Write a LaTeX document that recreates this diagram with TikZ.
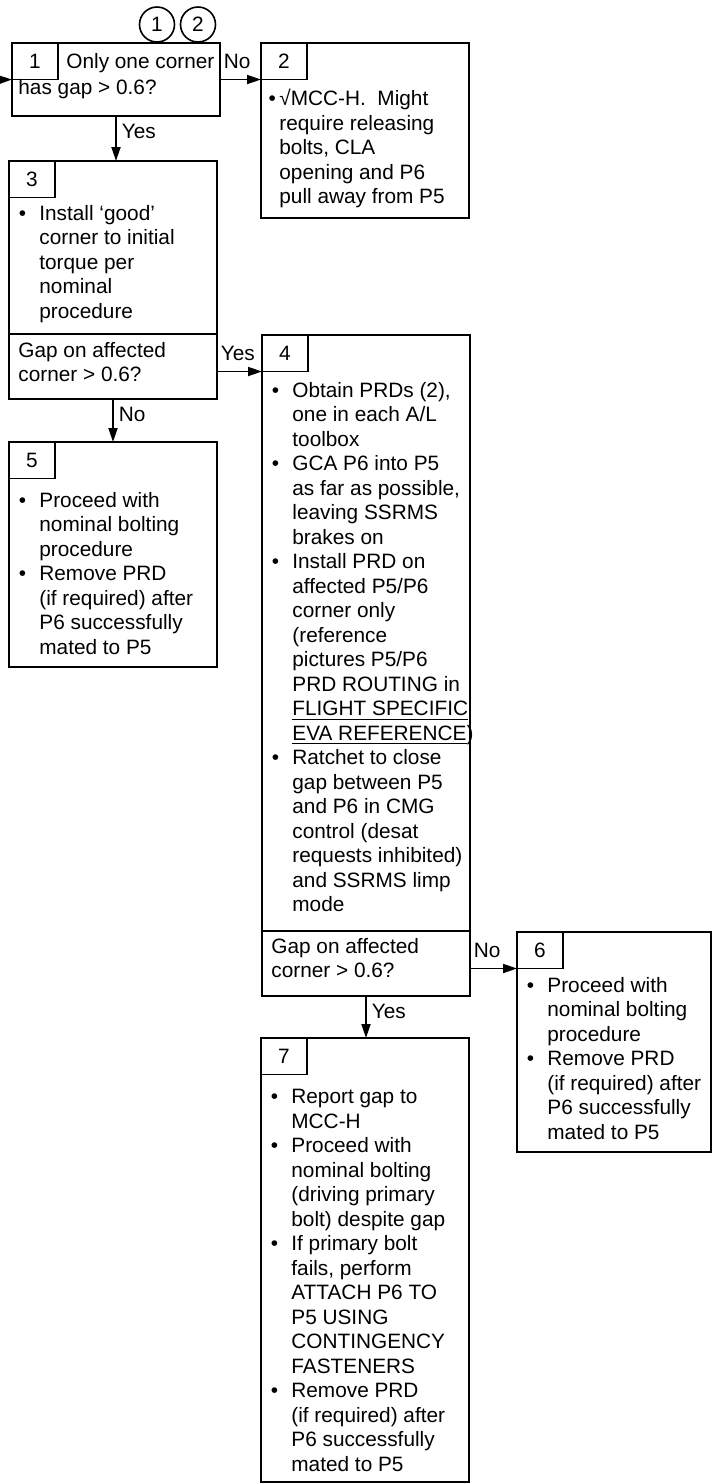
\documentclass[tikz,border=0pt]{standalone}
\usepackage{fontspec}
\setmainfont{Liberation Sans}
\usetikzlibrary{arrows.meta,positioning}
\newcommand{\bitem}{\llap{\textbullet\hspace{6.6pt}}}

\begin{document}
\begin{tikzpicture}[x=0.5pt, y=-0.5pt, ->, >={Triangle[length=7pt,width=4.5pt]},
                    font=\fontsize{10.4}{12.25}\selectfont,
                    box/.style={draw,line width=1.1pt,anchor=north west,inner sep=0pt,outer sep=0pt,minimum width=104pt},
                    tab/.style={draw,line width=0.75pt,anchor=north west,inner sep=0pt,outer sep=0pt,minimum width=23pt,minimum height=18.25pt},
                    txt/.style={anchor=north west,align=left,inner sep=0pt,yshift=9pt,
                                execute at begin node=\rule{0pt}{9pt}},
                    ref/.style={draw,circle,line width=0.8pt,minimum size=17.5pt,inner sep=0pt},
                    lblh/.style={pos=0,anchor=south west,xshift=1.5pt,yshift=5pt,inner sep=0pt},
                    lblv/.style={pos=0,anchor=north west,xshift=2.5pt,yshift=-3.5pt,inner sep=0pt}]
  \useasboundingbox (0,0) rectangle (713,1484);

  % references
  \node[ref] (c1) at (157,24.5) {1};
  \node[ref] (c2) at (198,24.5) {2};

  % boxes
  \node[box,minimum height=36.5pt] (box1) at (12,43) {};
  \node[box,minimum height=87.5pt] (box2) at (261,43) {};
  \node[box,minimum height=86.5pt] (box3) at (9,161) {};
  \node[box,minimum height=32.5pt] (q3) at (box3.south west) {};
  \node[box,minimum height=298pt] (box4) at (262,335) {};
  \node[box,minimum height=32.5pt] (q4) at (box4.south west) {};
  \node[box,minimum height=112.5pt] (box5) at (9,442) {};
  \node[box,minimum width=97pt,minimum height=110pt] (box6) at (517,932) {};
  \node[box,minimum height=222pt] (box7) at (261,1038) {};

  % numbers
  \node[tab] (tab1) at (box1.north west) {1};
  \node[tab] (tab2) at (box2.north west) {2};
  \node[tab] (tab3) at (box3.north west) {3};
  \node[tab] (tab4) at (box4.north west) {4};
  \node[tab] (tab5) at (box5.north west) {5};
  \node[tab] (tab6) at (box6.north west) {6};
  \node[tab] (tab7) at (box7.north west) {7};

  % texts
  \node[txt] (t1) at (18,71) {\hspace*{24pt}Only one corner\\[0.8pt]has gap > 0.6?};
  \node[txt] (t2) at (279,107) {\llap{\textbullet\,}√MCC-H.\ \ Might\\
    require releasing\\bolts, CLA\\opening and P6\\pull away from P5};
  \node[txt] (t3) at (39,223) {\bitem Install `good'\\corner to initial\\torque per\\nominal\\procedure};
  \node[txt] (tq3) at (18,360) {Gap on affected\\corner > 0.6?};
  \node[txt] (t4) at (292,400) {\bitem Obtain PRDs (2),\\one in each A/L\\toolbox\\
    \bitem GCA P6 into P5\\as far as possible,\\leaving SSRMS\\brakes on\\
    \bitem Install PRD on\\affected P5/P6\\corner only\\(reference\\pictures P5/P6\\PRD ROUTING in\\
    \underline{FLIGHT SPECIFIC}\\\underline{EVA REFERENCE})\\
    \bitem Ratchet to close\\gap between P5\\and P6 in CMG\\control (desat\\requests inhibited)\\and SSRMS limp\\mode};
  \node[txt] (tq4) at (271,956) {Gap on affected\\corner > 0.6?};
  \node[txt] (t5) at (39,510) {\bitem Proceed with\\nominal bolting\\procedure\\
    \bitem Remove PRD\\(if required) after\\P6 successfully\\mated to P5};
  \node[txt] (t6) at (547,995) {\bitem Proceed with\\nominal bolting\\procedure\\
    \bitem Remove PRD\\(if required) after\\P6 successfully\\mated to P5};
  \node[txt] (t7) at (291,1107) {\bitem Report gap to\\MCC-H\\
    \bitem Proceed with\\nominal bolting\\(driving primary\\bolt) despite gap\\
    \bitem If primary bolt\\fails, perform\\ATTACH P6 TO\\P5 USING\\CONTINGENCY\\FASTENERS\\
    \bitem Remove PRD\\(if required) after\\P6 successfully\\mated to P5};

  \coordinate (in1) at (-12,80);

  \path[line width=0.9pt]
    (in1) edge (tab1.south west)
    (box1.east |- tab2.south west) edge node[lblh] (l12) {No} (tab2.south west)
    (box1.south) edge node[lblv] (l13) {Yes} (box1.south |- box3.north)
    (q3.east |- tab4.south west) edge node[lblh] (l34) {Yes} (tab4.south west)
    (q3.south) edge node[lblv] (l35) {No} (q3.south |- box5.north)
    (q4.east |- tab6.south west) edge node[lblh] (l46) {No} (tab6.south west)
    (q4.south) edge node[lblv] (l47) {Yes} (q4.south |- box7.north);
\end{tikzpicture}
\end{document}
